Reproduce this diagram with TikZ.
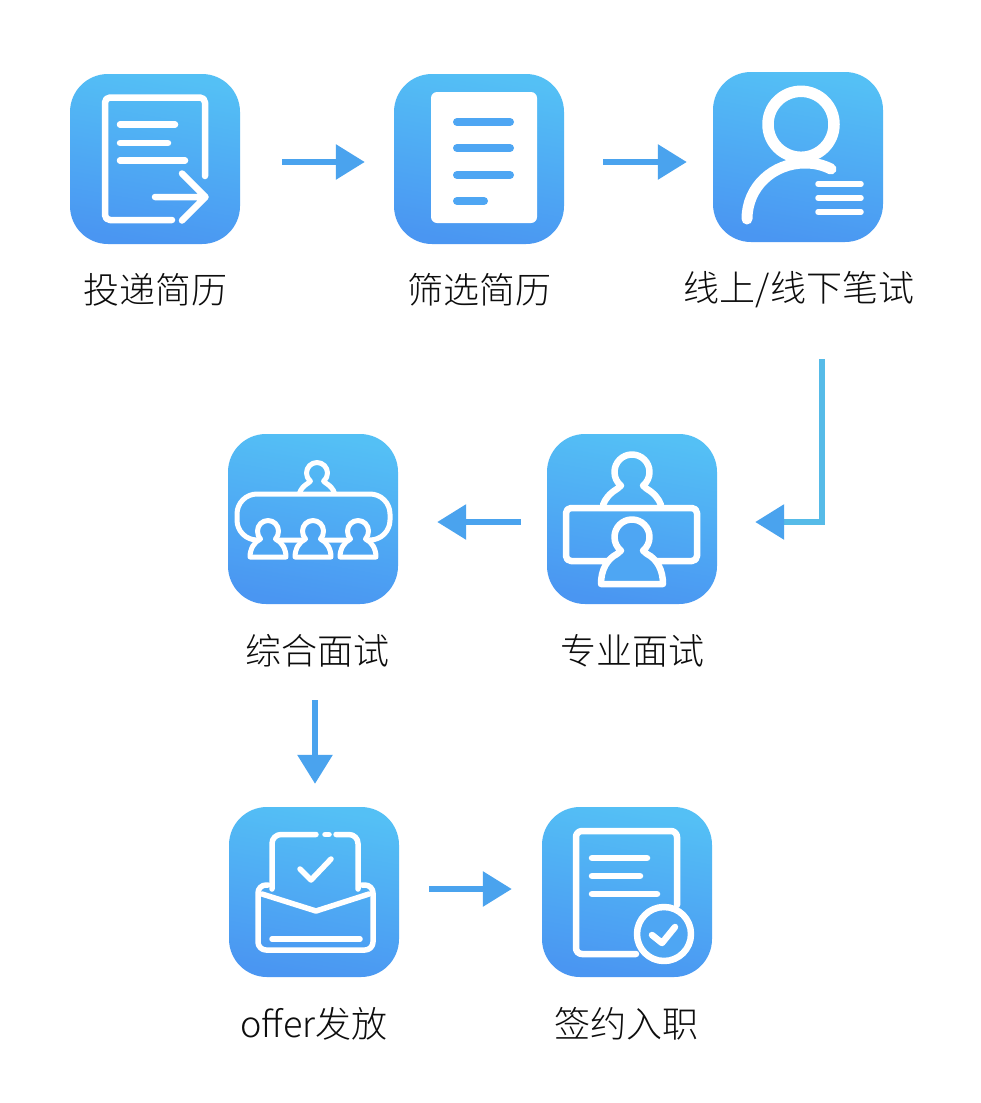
\documentclass[tikz,border=0pt]{standalone}
\usepackage{fontspec}
\newfontfamily\cjk{Noto Sans CJK SC Light}
\usetikzlibrary{arrows.meta}
\definecolor{gtop}{HTML}{54C0F5}
\definecolor{gbot}{HTML}{4A96F2}
\definecolor{midb}{HTML}{4EA6F3}
\definecolor{arrowb}{HTML}{4AA3EE}
\definecolor{elbow}{HTML}{56BBE8}
\tikzset{
  iconbox/.style={shape=rectangle,minimum width=170pt,minimum height=170pt,inner sep=0pt,
    rounded corners=38pt,top color=gtop,bottom color=gbot,shading angle=-10,draw=none},
  caption/.style={inner sep=0pt,font=\cjk\fontsize{36}{40}\selectfont,text=black!95},
  wl/.style={draw=white,line cap=round,line join=round,line width=#1},
  wl/.default=6.5pt,
  bl/.style={draw=midb,line cap=round,line width=8pt},
  flow/.style={draw=arrowb,line width=6pt,-{Triangle[length=29pt,width=34pt,color=arrowb]}},
  elbowflow/.style={draw=elbow,line width=6pt,-{Triangle[length=29pt,width=34pt,color=arrowb]}},
  person/.pic={
    \draw[white,fill=midb,line join=round]
      (-11,13.6) .. controls (-15.3,10.2) and (-17.5,5.3) .. (-17.5,0)
      .. controls (-17.5,-9.66) and (-9.66,-17.5) .. (0,-17.5)
      .. controls (9.66,-17.5) and (17.5,-9.66) .. (17.5,0)
      .. controls (17.5,5.3) and (15.3,10.2) .. (11,13.6)
      -- (15,17) .. controls (25,22) and (31,33) .. (31,47)
      -- (-31,47) .. controls (-31,33) and (-25,22) .. (-15,17) -- cycle;
  },
  smallperson/.pic={
    \draw[white,fill=midb,line join=round,line width=5pt]
      (-7.5,8) .. controls (-9.5,6) and (-10.5,3.2) .. (-10.5,0)
      .. controls (-10.5,-5.8) and (-5.8,-10.5) .. (0,-10.5)
      .. controls (5.8,-10.5) and (10.5,-5.8) .. (10.5,0)
      .. controls (10.5,3.2) and (9.5,6) .. (7.5,8)
      .. controls (14,11) and (18,18) .. (18,26)
      -- (-18,26) .. controls (-18,18) and (-14,11) .. (-7.5,8) -- cycle;
  },
  personopen/.pic={
    \draw[white,line join=round,line cap=round]
      (-29,33) .. controls (-27,27) and (-22,21) .. (-15,17) -- (-11,13.6)
      .. controls (-15.3,10.2) and (-17.5,5.3) .. (-17.5,0)
      .. controls (-17.5,-9.66) and (-9.66,-17.5) .. (0,-17.5)
      .. controls (9.66,-17.5) and (17.5,-9.66) .. (17.5,0)
      .. controls (17.5,5.3) and (15.3,10.2) .. (11,13.6)
      -- (15,17) .. controls (22,21) and (27,27) .. (29,33);
  }
}
\begin{document}
\begin{tikzpicture}[x=1pt,y=-1pt]
\useasboundingbox[fill=white] (0,0) rectangle (981,1103);
% icon boxes
\node[iconbox] (n1) at (155,159) {};
\node[iconbox] (n2) at (479,159) {};
\node[iconbox] (n3) at (798,157) {};
\node[iconbox] (n4) at (313,519) {};
\node[iconbox] (n5) at (632,519) {};
\node[iconbox] (n6) at (314,892) {};
\node[iconbox] (n7) at (627,892) {};
% captions
\node[caption] (l1) at (155,290) {投递简历};
\node[caption] (l2) at (479,290) {筛选简历};
\node[caption] (l3) at (799,290) {线上/线下笔试};
\node[caption] (l4) at (317,651) {综合面试};
\node[caption] (l5) at (632,651) {专业面试};
\node[caption] (l6) at (314,1024) {offer发放};
\node[caption] (l7) at (626,1024) {签约入职};
% connectors
\draw[flow] ([xshift=42pt,yshift=-3pt]n1.east) -- ([xshift=-29pt,yshift=-3pt]n2.west);
\draw[flow] ([xshift=39pt,yshift=-3pt]n2.east) -- ([xshift=-26pt,yshift=-5pt]n3.west);
\draw[elbowflow] ([xshift=24pt,yshift=-117pt]n3.south) |- ([xshift=38pt,yshift=-3pt]n5.east);
\draw[flow] ([xshift=-26pt,yshift=-3pt]n5.west) -- ([xshift=39pt,yshift=-3pt]n4.east);
\draw[flow] ([xshift=2pt,yshift=-96pt]n4.south) -- ([xshift=1pt,yshift=23pt]n6.north);
\draw[flow] ([xshift=30pt,yshift=3pt]n6.east) -- ([xshift=-30pt,yshift=3pt]n7.west);
% icon 1
\draw[wl,rounded corners=5pt] (205,176) -- (205,97.5) -- (105,97.5) -- (105,220) -- (172,220);
\draw[wl] (120,124.5) -- (175,124.5) (120,143) -- (168,143) (120,160.5) -- (185,160.5);
\draw[wl] (155,197) -- (205,197) (182,173.5) -- (205.5,197) -- (182,220.5);
% icon 2
\fill[white,rounded corners=6pt] (431,92) rectangle (537,223);
\draw[bl] (457,122) -- (510,122) (457,148) -- (510,148) (457,175) -- (510,175) (457,201) -- (484,201);
% icon 3
\draw[wl=11.5pt] (801,124.3) circle[radius=33pt];
\draw[wl=11pt] (747,219) .. controls (747,187) and (773,163) .. (805,163) .. controls (815,163) and (823,165) .. (831,169);
\draw[wl=5.5pt] (818,184) -- (861,184) (818,198) -- (861,198) (818,212) -- (861,212);
% icon 4
\pic[scale=.6,line width=5pt] at (317,473) {personopen};
\draw[wl=5pt,rounded corners=20pt] (237,494) rectangle (390,540);
\pic at (268,531) {smallperson};
\pic at (313,531) {smallperson};
\pic at (358,531) {smallperson};
% icon 5
\pic[line width=6.5pt] at (632,472) {personopen};
\draw[wl,rounded corners=5pt] (566,508) rectangle (697,561);
\pic[line width=6.5pt] at (632,537) {person};
% icon 6
\draw[wl=5.5pt,rounded corners=9pt] (272,889) -- (272,834.5) -- (316,834.5);
\draw[wl=5.5pt,rounded corners=9pt] (336,834.5) -- (358,834.5) -- (358,889);
\draw[wl=5.5pt] (325,834.5) -- (329,834.5);
\draw[wl=5.5pt] (300,869) -- (311,880) -- (331,859);
\draw[wl=5.5pt,rounded corners=8pt] (268,885) -- (258,885) -- (258,950) -- (373,950) -- (373,885) -- (362,885);
\draw[wl=5.5pt] (262,894) -- (316,911) -- (369,894);
\draw[wl=5.5pt] (272,939) -- (360,939);
% icon 7
\draw[wl,rounded corners=6pt] (636,954) -- (576,954) -- (576,831) -- (677,831) -- (677,905);
\draw[wl] (592,858) -- (647,858) (592,876) -- (640,876) (592,894) -- (657,894);
\draw[wl,fill=midb] (664,934) circle[radius=27pt];
\draw[wl] (652,935) -- (662,943) -- (675,927);
\end{tikzpicture}
\end{document}
